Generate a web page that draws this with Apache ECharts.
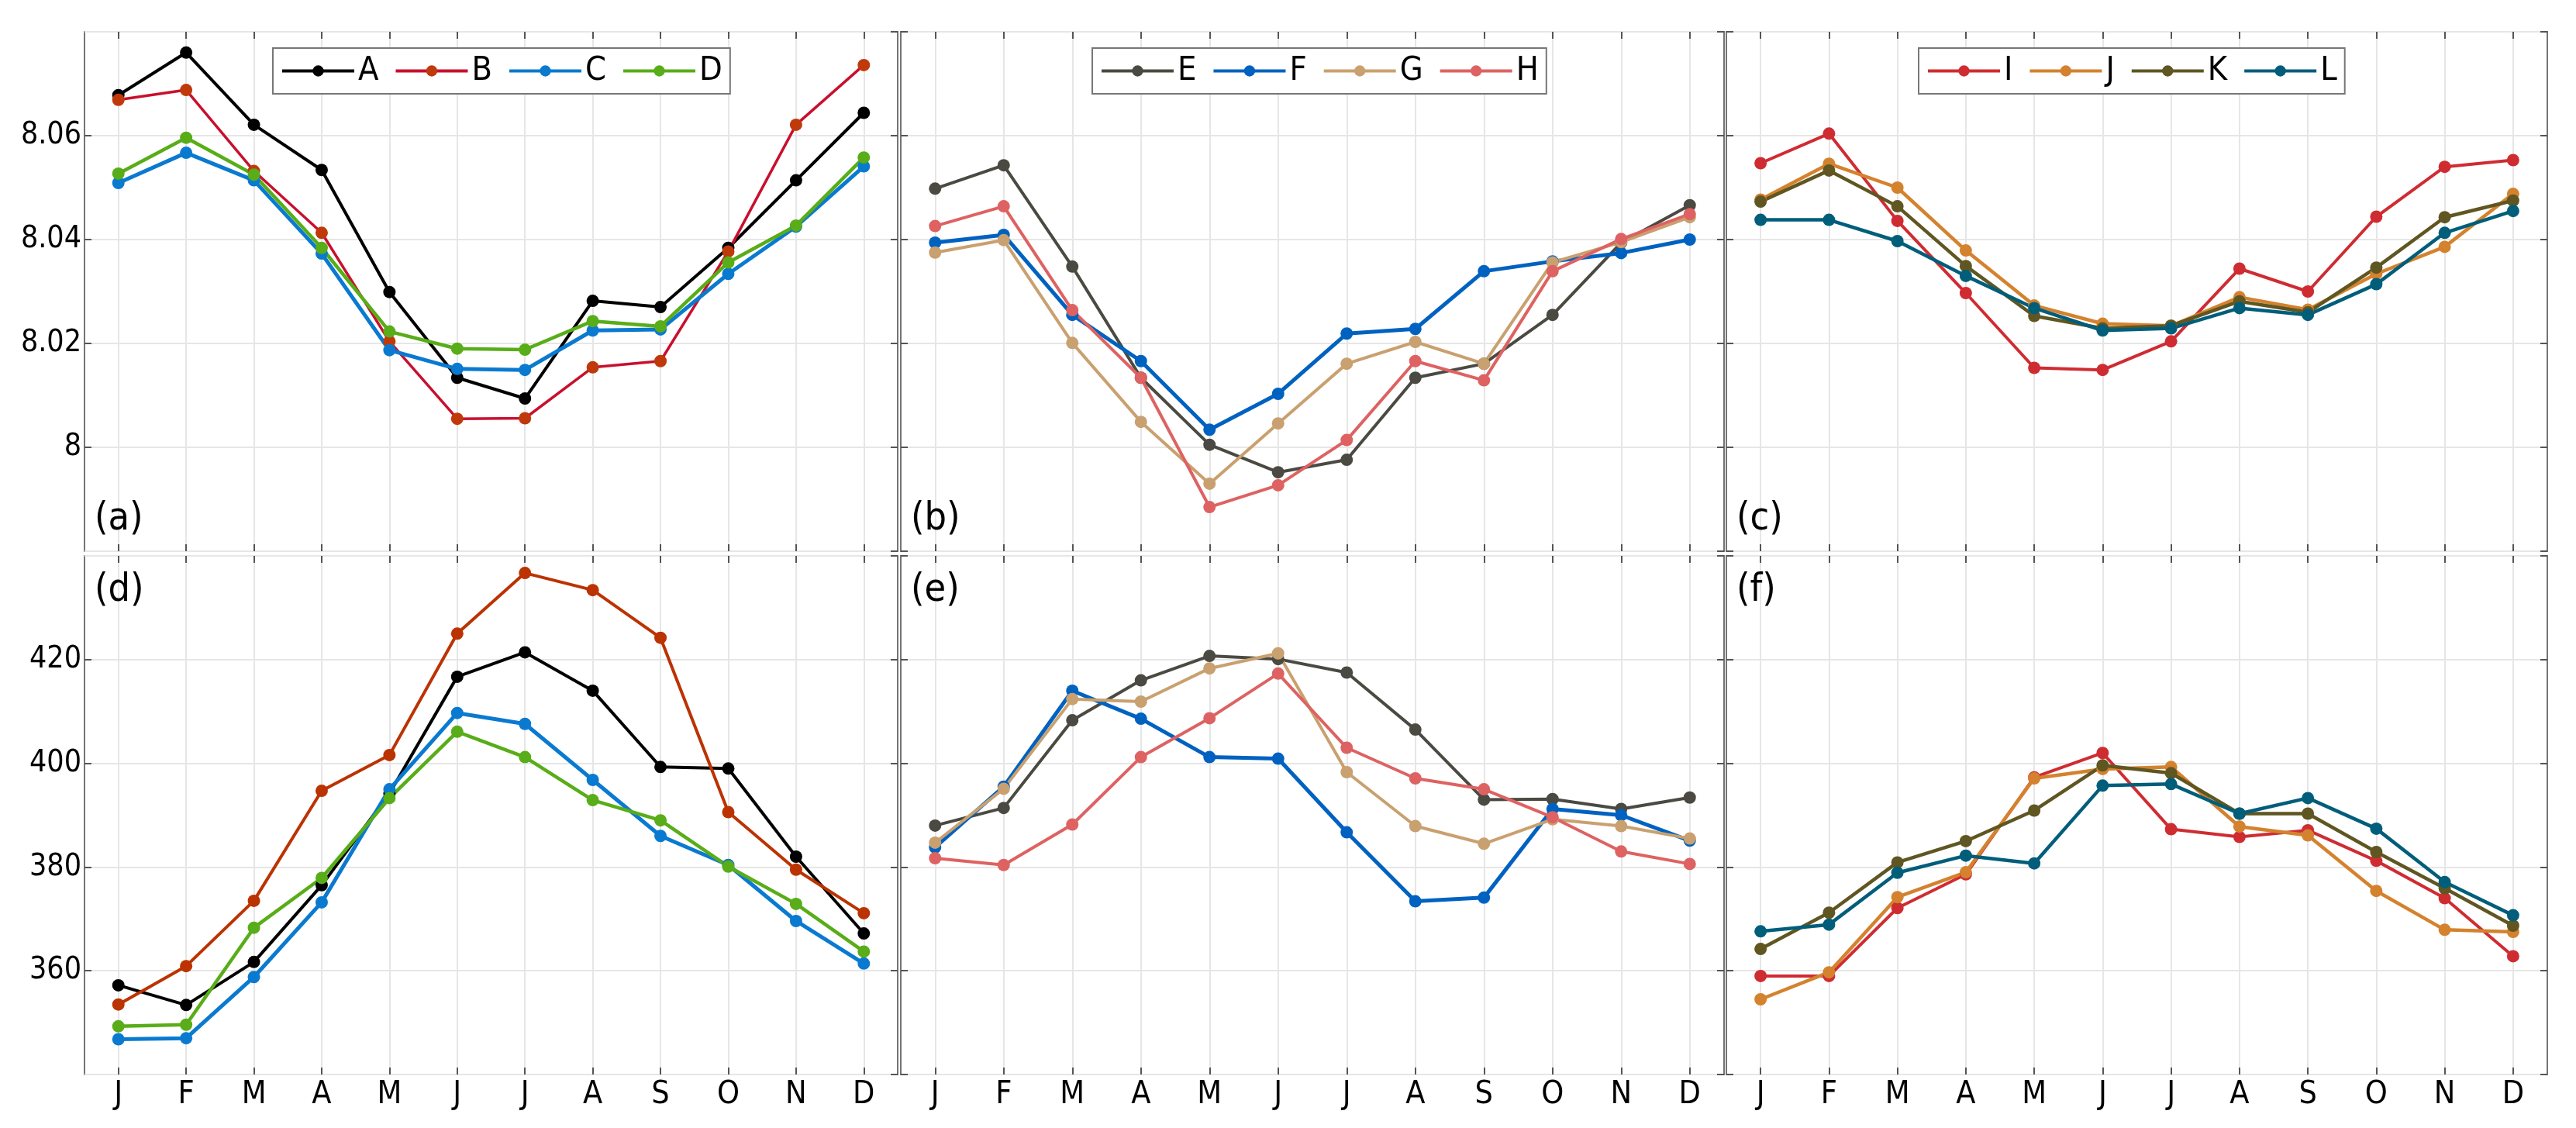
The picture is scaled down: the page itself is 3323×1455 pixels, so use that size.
<!DOCTYPE html>
<html>
<head>
<meta charset="utf-8">
<script src="https://cdn.jsdelivr.net/npm/echarts@6/dist/echarts.min.js"></script>
<style>
  html, body { margin: 0; padding: 0; background: #fff; }
  #chart { width: 3323px; height: 1455px; }
</style>
</head>
<body>
<div id="chart"></div>
<script>
const months = ['J', 'F', 'M', 'A', 'M', 'J', 'J', 'A', 'S', 'O', 'N', 'D'];
const panelLabels = ['(a)', '(b)', '(c)', '(d)', '(e)', '(f)'];

// upper row
const upperA = [8.0678, 8.0760, 8.0621, 8.0534, 8.0299, 8.0134, 8.0094, 8.0282, 8.0270, 8.0384, 8.0514, 8.0644];
const upperB = [8.0669, 8.0688, 8.0532, 8.0413, 8.0204, 8.0055, 8.0056, 8.0154, 8.0166, 8.0377, 8.0621, 8.0736];
const upperC = [8.0509, 8.0567, 8.0514, 8.0373, 8.0187, 8.0151, 8.0149, 8.0225, 8.0227, 8.0334, 8.0425, 8.0541];
const upperD = [8.0527, 8.0596, 8.0525, 8.0384, 8.0223, 8.0190, 8.0188, 8.0243, 8.0233, 8.0356, 8.0427, 8.0558];
const upperE = [8.0498, 8.0543, 8.0348, 8.0134, 8.0005, 7.9952, 7.9976, 8.0134, 8.0161, 8.0255, 8.0394, 8.0466];
const upperF = [8.0394, 8.0409, 8.0255, 8.0166, 8.0034, 8.0103, 8.0219, 8.0228, 8.0339, 8.0358, 8.0374, 8.0400];
const upperG = [8.0375, 8.0399, 8.0201, 8.0049, 7.9930, 8.0046, 8.0161, 8.0203, 8.0161, 8.0356, 8.0395, 8.0443];
const upperH = [8.0426, 8.0464, 8.0264, 8.0134, 7.9885, 7.9927, 8.0014, 8.0166, 8.0129, 8.0339, 8.0401, 8.0449];
const upperI = [8.0547, 8.0604, 8.0436, 8.0297, 8.0153, 8.0149, 8.0204, 8.0344, 8.0300, 8.0444, 8.0540, 8.0553];
const upperJ = [8.0477, 8.0546, 8.0500, 8.0379, 8.0273, 8.0238, 8.0234, 8.0289, 8.0265, 8.0334, 8.0386, 8.0488];
const upperK = [8.0473, 8.0533, 8.0464, 8.0349, 8.0253, 8.0229, 8.0234, 8.0281, 8.0260, 8.0346, 8.0443, 8.0475];
const upperL = [8.0438, 8.0438, 8.0397, 8.0330, 8.0268, 8.0225, 8.0229, 8.0268, 8.0255, 8.0314, 8.0413, 8.0455];

// lower row
const lowerA = [357.2, 353.4, 361.7, 376.5, 394.2, 416.7, 421.4, 414.0, 399.3, 399.0, 382.0, 367.2];
const lowerB = [353.5, 360.9, 373.5, 394.7, 401.6, 425.0, 436.7, 433.4, 424.2, 390.6, 379.5, 371.1];
const lowerC = [346.8, 347.0, 358.8, 373.2, 395.0, 409.7, 407.6, 396.8, 386.0, 380.4, 369.6, 361.4];
const lowerD = [349.3, 349.6, 368.3, 377.9, 393.3, 406.1, 401.2, 392.9, 389.0, 380.1, 372.9, 363.7];
const lowerE = [388.0, 391.4, 408.3, 416.0, 420.7, 420.1, 417.5, 406.5, 393.0, 393.1, 391.2, 393.4];
const lowerF = [383.8, 395.5, 414.0, 408.6, 401.2, 400.9, 386.7, 373.4, 374.1, 391.2, 390.0, 385.1];
const lowerG = [384.7, 395.1, 412.4, 411.9, 418.3, 421.2, 398.3, 387.9, 384.5, 389.2, 387.9, 385.5];
const lowerH = [381.7, 380.4, 388.2, 401.2, 408.7, 417.3, 403.0, 397.1, 395.0, 389.6, 383.0, 380.6];
const lowerI = [359.0, 359.0, 372.1, 378.6, 397.3, 402.0, 387.3, 385.8, 387.1, 381.2, 374.0, 362.8];
const lowerJ = [354.5, 359.7, 374.2, 379.0, 397.1, 398.9, 399.3, 387.8, 386.1, 375.4, 367.9, 367.5];
const lowerK = [364.2, 371.2, 380.9, 385.0, 390.9, 399.6, 398.1, 390.3, 390.3, 382.9, 375.9, 368.7];
const lowerL = [367.6, 368.9, 378.9, 382.2, 380.7, 395.7, 396.0, 390.3, 393.3, 387.4, 377.1, 370.7];

const FONT = "'Liberation Sans Narrow', 'DejaVu Sans Condensed', 'Noto Sans', sans-serif";

const grids = [
  { left: 109, top: 41, width: 1049, height: 670 },
  { left: 1162, top: 41, width: 1062, height: 670 },
  { left: 2227, top: 41, width: 1059, height: 670 },
  { left: 109, top: 717, width: 1049, height: 669 },
  { left: 1162, top: 717, width: 1062, height: 669 },
  { left: 2227, top: 717, width: 1059, height: 669 }
].map(g => Object.assign(g, { show: true, borderColor: '#747474', borderWidth: 2, backgroundColor: '#fff' }));

const tick = { show: true, inside: true, length: 9, alignWithLabel: true, lineStyle: { color: '#555', width: 2 } };
const grid_line = { show: true, alignWithLabel: true, lineStyle: { color: '#e6e6e6', width: 2 } };

const xAxes = [];
const yAxes = [];
grids.forEach((g, i) => {
  const bottomRow = i >= 3;
  xAxes.push({
    type: 'category', gridIndex: i, position: 'bottom', data: months, boundaryGap: true,
    axisLine: { show: false }, axisTick: tick, splitLine: grid_line,
    axisLabel: { show: bottomRow, interval: 0, margin: 6, fontSize: 41, color: '#000', fontFamily: FONT }
  });
  xAxes.push({
    type: 'category', gridIndex: i, position: 'top', data: months, boundaryGap: true,
    axisLine: { show: false }, axisTick: tick, splitLine: { show: false }, axisLabel: { show: false }
  });
  const range = bottomRow ? { min: 340, max: 440, interval: 20 } : { min: 7.98, max: 8.08, interval: 0.02 };
  yAxes.push(Object.assign({
    type: 'value', gridIndex: i, position: 'left',
    axisLine: { show: false }, axisTick: tick, splitLine: grid_line,
    axisLabel: {
      show: i === 0 || i === 3, margin: 4, fontSize: 39, color: '#000', fontFamily: FONT,
      showMinLabel: false, showMaxLabel: false,
      formatter: v => String(+v.toFixed(2))
    }
  }, range));
  yAxes.push(Object.assign({
    type: 'value', gridIndex: i, position: 'right',
    axisLine: { show: false }, axisTick: tick, splitLine: { show: false }, axisLabel: { show: false }
  }, range));
});

function line(name, data, panel, color, marker, width) {
  return {
    name, type: 'line', data,
    xAxisIndex: panel * 2, yAxisIndex: panel * 2,
    symbol: 'circle', symbolSize: 16, showSymbol: true,
    lineStyle: { color, width: width || 4 },
    itemStyle: { color: marker || color, borderWidth: 0 },
    emphasis: { disabled: true },
    animation: false, z: 3
  };
}

const series = [
  line('A', upperA, 0, '#000000'),
  line('B', upperB, 0, '#c8102e', '#c0390b', 3.5),
  line('C', upperC, 0, '#0a7ad0', null, 5),
  line('D', upperD, 0, '#58ad18', null, 4.5),
  line('E', upperE, 1, '#4a4a42'),
  line('F', upperF, 1, '#0062c0', null, 5),
  line('G', upperG, 1, '#c9a06f'),
  line('H', upperH, 1, '#de6262'),
  line('I', upperI, 2, '#cf2c32'),
  line('J', upperJ, 2, '#d4822e', null, 4.5),
  line('K', upperK, 2, '#5f5622', null, 4.5),
  line('L', upperL, 2, '#005e7a', null, 4.5),
  line('A', lowerA, 3, '#000000'),
  line('B', lowerB, 3, '#bb3300', '#bb3300'),
  line('C', lowerC, 3, '#0a7ad0', null, 5),
  line('D', lowerD, 3, '#58ad18', null, 4.5),
  line('E', lowerE, 4, '#4a4a42'),
  line('F', lowerF, 4, '#0062c0', null, 5),
  line('G', lowerG, 4, '#c9a06f'),
  line('H', lowerH, 4, '#de6262'),
  line('I', lowerI, 5, '#cf2c32'),
  line('J', lowerJ, 5, '#d4822e', null, 4.5),
  line('K', lowerK, 5, '#5f5622', null, 4.5),
  line('L', lowerL, 5, '#005e7a', null, 4.5)
];

function legend(names, left) {
  return {
    data: names, left, top: 62, orient: 'horizontal',
    itemWidth: 93, itemHeight: 18, itemGap: 20,
    padding: [8, 10, 8, 10],
    borderColor: '#777', borderWidth: 2, backgroundColor: '#fff',
    selectedMode: false,
    lineStyle: { width: 4 },
    textStyle: { fontSize: 43, color: '#000', fontFamily: FONT, lineHeight: 40, padding: [0, 0, 0, 0] }
  };
}

const titles = panelLabels.map((t, i) => ({
  text: t,
  left: grids[i].left + 8,
  top: i < 3 ? 640 : 732,
  textStyle: { fontSize: 50, fontWeight: 'normal', color: '#000', fontFamily: FONT }
}));

const chart = echarts.init(document.getElementById('chart'), null, { renderer: 'canvas' });
chart.setOption({
  backgroundColor: '#fff',
  animation: false,
  title: titles,
  legend: [
    legend(['A', 'B', 'C', 'D'], 352),
    legend(['E', 'F', 'G', 'H'], 1409),
    legend(['I', 'J', 'K', 'L'], 2475)
  ],
  grid: grids,
  xAxis: xAxes,
  yAxis: yAxes,
  series
});
</script>
</body>
</html>
